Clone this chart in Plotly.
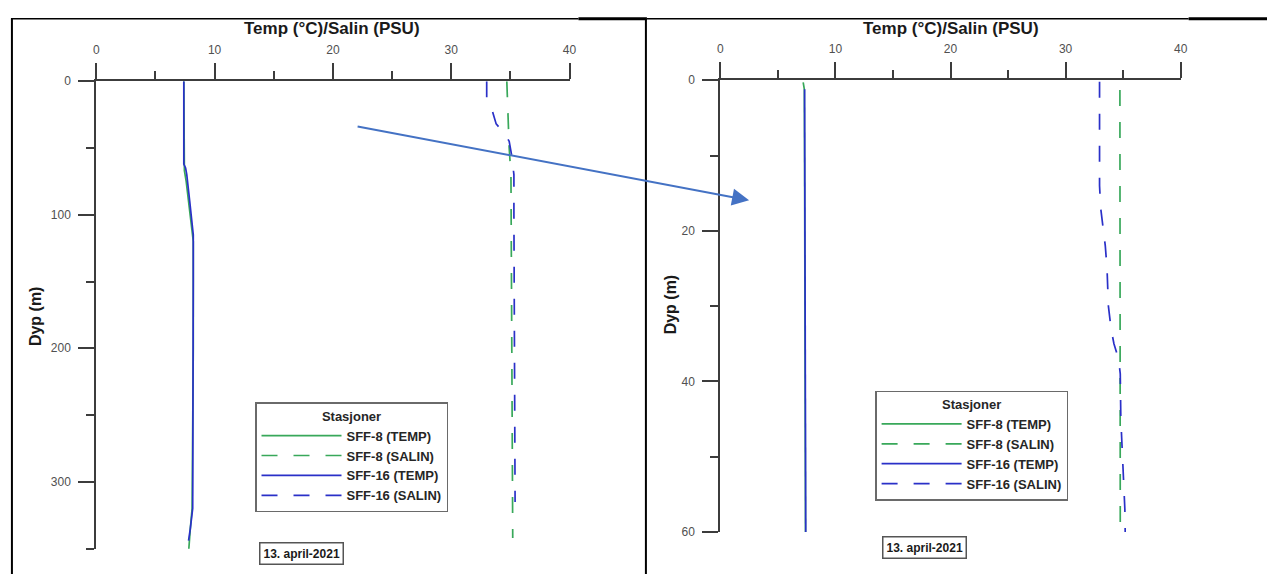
import plotly.graph_objects as go

W, H = 1274, 581

# ---------------- data: left panel (full depth) ----------------
L_sff8_temp_depth = [0, 63, 67, 75, 90, 105, 120, 200, 300, 320, 335, 353]
L_sff8_temp_val   = [7.4, 7.4, 7.45, 7.6, 7.8, 8.0, 8.2, 8.2, 8.15, 8.1, 7.95, 7.8]
L_sff8_sal_depth  = [0, 30, 50, 70, 150, 250, 342]
L_sff8_sal_val    = [34.7, 34.8, 34.9, 35.05, 35.1, 35.15, 35.2]
L_sff16_temp_depth = [0, 62, 65, 70, 90, 105, 115, 150, 200, 250, 300, 320, 335, 344]
L_sff16_temp_val   = [7.4, 7.4, 7.55, 7.65, 7.9, 8.05, 8.2, 8.2, 8.2, 8.2, 8.15, 8.15, 7.95, 7.8]
L_sff16_sal_depth = [0, 12, 20, 32, 38, 45, 55, 70, 100, 200, 300, 315]
L_sff16_sal_val   = [33.0, 33.0, 33.4, 33.8, 34.4, 34.9, 35.1, 35.3, 35.3, 35.35, 35.4, 35.4]

# ---------------- data: right panel (0-60 m) ----------------
R_sff8_temp_depth = [0.3, 1.2, 10, 30, 50, 60.2]
R_sff8_temp_val   = [7.2, 7.3, 7.32, 7.35, 7.38, 7.4]
R_sff8_sal_depth  = [1.3, 20, 40, 59.3]
R_sff8_sal_val    = [34.72, 34.73, 34.75, 34.75]
R_sff16_temp_depth = [1.2, 30, 60.3]
R_sff16_temp_val   = [7.32, 7.37, 7.42]
R_sff16_sal_depth = [0.2, 14, 17, 20, 22, 25, 30, 33, 35, 37, 39, 45, 49, 53, 57, 60]
R_sff16_sal_val   = [32.95, 32.95, 33.05, 33.3, 33.45, 33.6, 33.72, 33.95, 34.2, 34.6, 34.75,
                     34.8, 34.92, 35.08, 35.15, 35.18]

series_names = ["SFF-8 (TEMP)", "SFF-8 (SALIN)", "SFF-16 (TEMP)", "SFF-16 (SALIN)"]
x_ticks = [0, 10, 20, 30, 40]
date_label = "13. april-2021"
x_title = "Temp (°C)/Salin (PSU)"
y_title = "Dyp (m)"
legend_title = "Stasjoner"

GREEN = "#38a85a"
BLUE = "#2a30c8"
AX = "#3c3c3c"
FONT = "Liberation Sans, Arial, sans-serif"


def px_x(p):
    return p / W


def px_y(p):
    return 1 - p / H


fig = go.Figure()

styles = [(GREEN, "solid"), (GREEN, "16px,16px"), (BLUE, "solid"), (BLUE, "16px,16px")]
left = [(L_sff8_temp_val, L_sff8_temp_depth), (L_sff8_sal_val, L_sff8_sal_depth),
        (L_sff16_temp_val, L_sff16_temp_depth), (L_sff16_sal_val, L_sff16_sal_depth)]
right = [(R_sff8_temp_val, R_sff8_temp_depth), (R_sff8_sal_val, R_sff8_sal_depth),
         (R_sff16_temp_val, R_sff16_temp_depth), (R_sff16_sal_val, R_sff16_sal_depth)]

for (xs, ys), name, (c, d) in zip(left, series_names, styles):
    fig.add_trace(go.Scatter(x=xs, y=ys, mode="lines", name=name, xaxis="x", yaxis="y",
                             line=dict(color=c, dash=d, width=1.7), legend="legend"))
for (xs, ys), name, (c, d) in zip(right, series_names, styles):
    fig.add_trace(go.Scatter(x=xs, y=ys, mode="lines", name=name, xaxis="x2", yaxis="y2",
                             line=dict(color=c, dash=d, width=1.7), legend="legend2"))

tickfont = dict(family=FONT, size=12, color="#505050")


def xaxis(dom, anchor):
    return dict(domain=dom, anchor=anchor, range=[0, 40], side="top", showline=True,
                linecolor=AX, linewidth=2, ticks="outside", ticklen=16, tickwidth=2,
                tickcolor=AX, tickvals=x_ticks, showgrid=False, zeroline=False,
                minor=dict(dtick=5, tick0=0, ticks="outside", ticklen=8, tickwidth=2,
                           tickcolor=AX, showgrid=False),
                tickfont=tickfont, ticklabelstandoff=4, fixedrange=True)


def yaxis(dom, anchor, rng, dt):
    return dict(domain=dom, anchor=anchor, range=rng, showline=True, linecolor=AX,
                linewidth=2, ticks="outside", ticklen=16, tickwidth=2, tickcolor=AX,
                dtick=dt, tick0=0, showgrid=False, zeroline=False,
                minor=dict(dtick=dt / 2, tick0=0, ticks="outside", ticklen=8, tickwidth=2,
                           tickcolor=AX, showgrid=False),
                tickfont=tickfont, ticklabelstandoff=5, fixedrange=True)


legend_common = dict(
    xanchor="left", yanchor="top", bgcolor="white", bordercolor="#6a6a6a", borderwidth=1.5,
    font=dict(family=FONT, size=13, color="#262626", weight="bold"),
    title=dict(text=legend_title, side="top center",
               font=dict(family=FONT, size=13, color="#262626", weight="bold")),
    itemwidth=80, tracegroupgap=0,
)

fig.update_layout(
    width=W, height=H, margin=dict(l=0, r=0, t=0, b=0),
    paper_bgcolor="white", plot_bgcolor="white",
    xaxis=xaxis([px_x(94), px_x(571)], "y"),
    yaxis=yaxis([px_y(555), px_y(76)], "x", [350, 0], 100),
    xaxis2=xaxis([px_x(723), px_x(1187)], "y2"),
    yaxis2=yaxis([px_y(538), px_y(75)], "x2", [60, 0], 20),
    legend=dict(x=px_x(254), y=px_y(405), **legend_common),
    legend2=dict(x=px_x(879), y=px_y(393), **legend_common),
    showlegend=True,
)

title_font = dict(family=FONT, size=17, color="#1a1a1a", weight="bold")
ytitle_font = dict(family=FONT, size=16, color="#1a1a1a", weight="bold")
date_font = dict(family=FONT, size=12, color="#1a1a1a", weight="bold")


def ann(text, x, y, font, **kw):
    d = dict(text=text, x=px_x(x), y=px_y(y), xref="paper", yref="paper", showarrow=False,
             font=font, xanchor="center", yanchor="middle")
    d.update(kw)
    return d


annotations = [
    ann(x_title, 332, 22, title_font),
    ann(x_title, 955, 22, title_font),
    ann(y_title, 33, 317, ytitle_font, textangle=-90),
    ann(y_title, 673, 305, ytitle_font, textangle=-90),
    ann(date_label, 301, 560, date_font, bordercolor="#555", borderwidth=1.5, borderpad=3,
        bgcolor="white"),
    ann(date_label, 929, 554, date_font, bordercolor="#555", borderwidth=1.5, borderpad=3,
        bgcolor="white"),
    # arrow pointing from the full profile to the zoomed profile
    dict(text="", x=px_x(752), y=px_y(198), xref="paper", yref="paper",
         ax=359 - 752, ay=124 - 198, axref="pixel", ayref="pixel", showarrow=True,
         arrowhead=2, arrowsize=1.7, arrowwidth=2, arrowcolor="#4472C4"),
]
fig.update_layout(annotations=annotations)

# page frame lines (document table borders)
shapes = [
    dict(type="line", xref="paper", yref="paper", x0=px_x(8), x1=px_x(580), y0=px_y(12), y1=px_y(12),
         line=dict(color="black", width=1.5)),
    dict(type="line", xref="paper", yref="paper", x0=px_x(580), x1=px_x(649), y0=px_y(12), y1=px_y(12),
         line=dict(color="black", width=3)),
    dict(type="line", xref="paper", yref="paper", x0=px_x(649), x1=px_x(1195), y0=px_y(12), y1=px_y(12),
         line=dict(color="black", width=1.5)),
    dict(type="line", xref="paper", yref="paper", x0=px_x(1195), x1=1, y0=px_y(12), y1=px_y(12),
         line=dict(color="black", width=3)),
    dict(type="line", xref="paper", yref="paper", x0=px_x(9), x1=px_x(9), y0=px_y(12), y1=0,
         line=dict(color="black", width=2)),
    dict(type="line", xref="paper", yref="paper", x0=px_x(648), x1=px_x(648), y0=px_y(12), y1=0,
         line=dict(color="black", width=2)),
]
fig.update_layout(shapes=shapes)

fig.write_html("out.html")
